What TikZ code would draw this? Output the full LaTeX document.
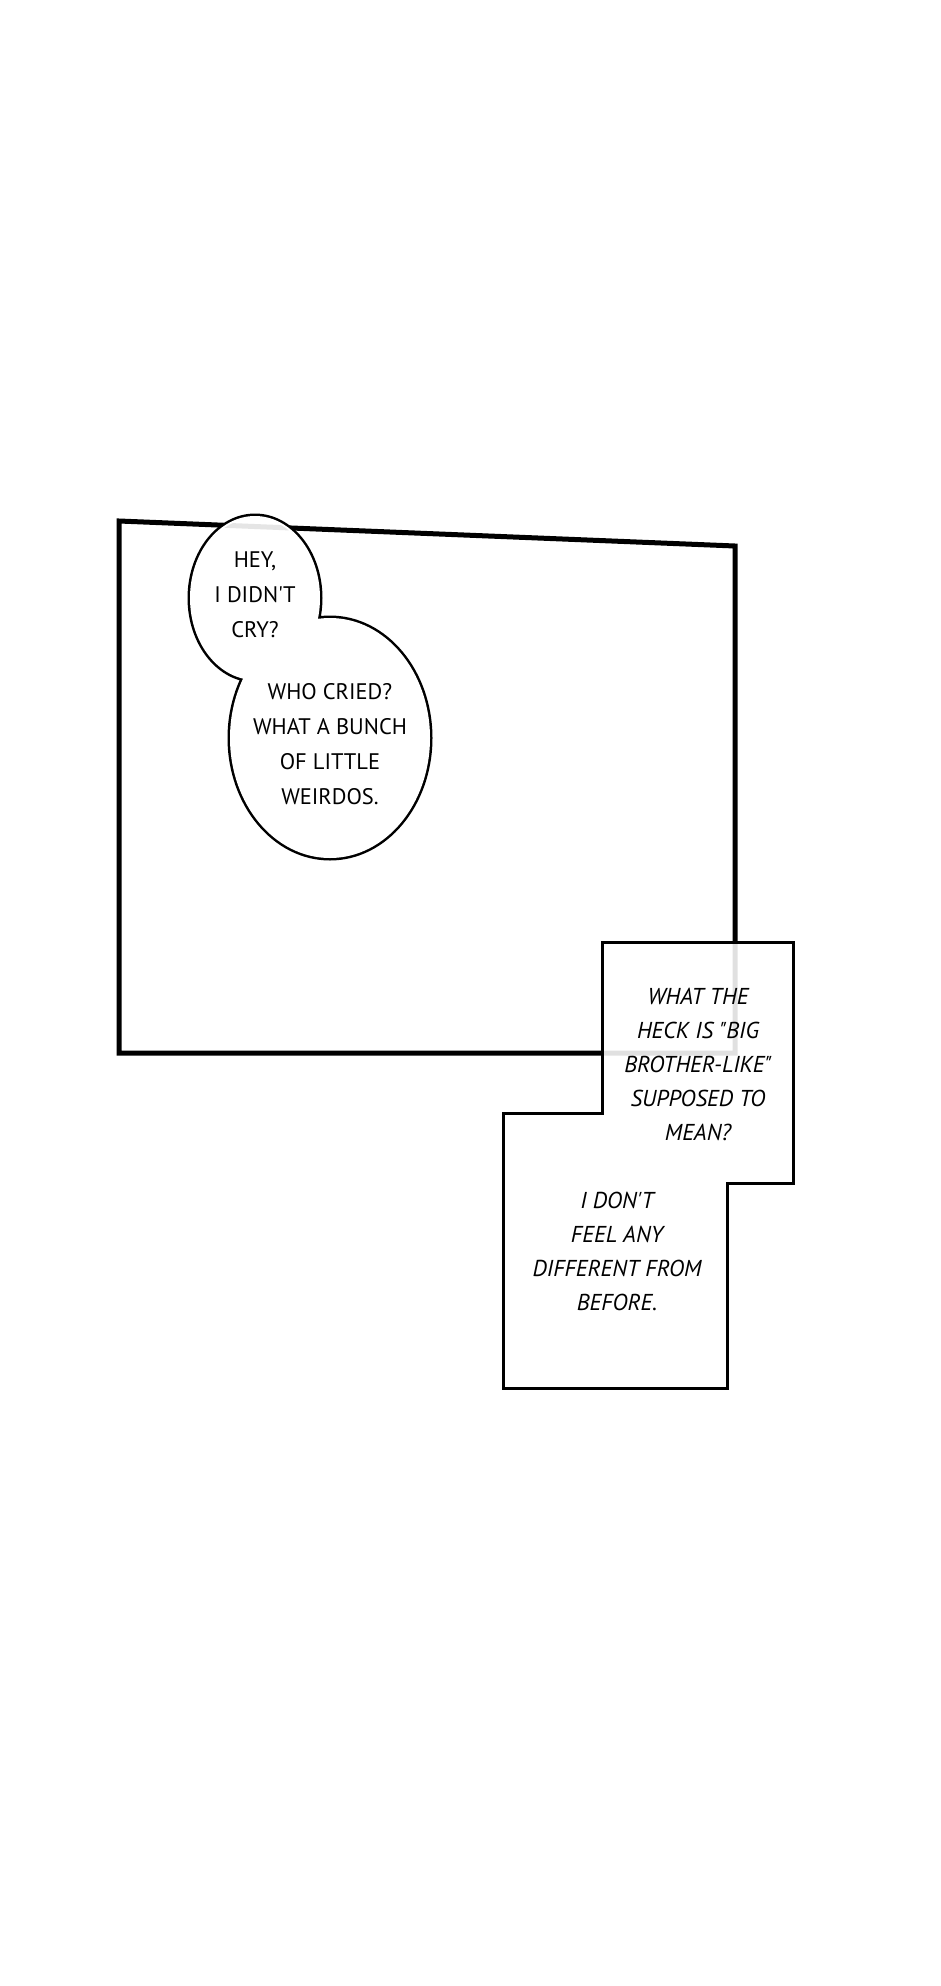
\documentclass[tikz,border=0pt]{standalone}
\usepackage{fontspec}
\setmainfont{PT Sans}
\usepackage{tikz}

\tikzset{
  talk/.style={align=center, font=\fontsize{22.5}{35}\selectfont},
  think/.style={align=center, font=\fontsize{23}{34}\selectfont\itshape},
}

\begin{document}
\begin{tikzpicture}[x=1pt,y=-1pt]

\useasboundingbox (0,0) rectangle (940,1986);

\draw[line width=5, line join=miter] (119,521)--(735,546)--(735,1053)--(119,1053)--cycle;

% balloons
\draw[line width=5] (255,598) ellipse (65pt and 82pt) (330,738) ellipse (100pt and 120pt);

\fill[white] (255,598) ellipse (65pt and 82pt) (330,738) ellipse (100pt and 120pt);

\begin{scope}
\clip (255,598) ellipse (63pt and 80pt) (330,738) ellipse (98pt and 118pt);
\draw[black!10, line width=5] (119,521)--(735,546);
\end{scope}

% boxes
\draw[line width=3, fill=white, fill opacity=0.88] (602,942)--(793,942)--(793,1183)--(727,1183)--(727,1388)--(503,1388)--(503,1113)--(602,1113)--cycle;

\node[talk] (hey) at (255,595) {HEY,\\I DIDN\textquotesingle T\\CRY?};

\node[talk] (whocried) at (330,744) {WHO CRIED?\\WHAT A BUNCH\\OF LITTLE\\WEIRDOS.};

\node[think] (heck) at (698,1064) {WHAT THE\\HECK IS \textquotedbl BIG\\BROTHER-LIKE\textquotedbl\\SUPPOSED TO\\MEAN?};

\node[think] (dont) at (617,1251) {I DON\textquotesingle T\\FEEL ANY\\DIFFERENT FROM\\BEFORE.};

\end{tikzpicture}
\end{document}
